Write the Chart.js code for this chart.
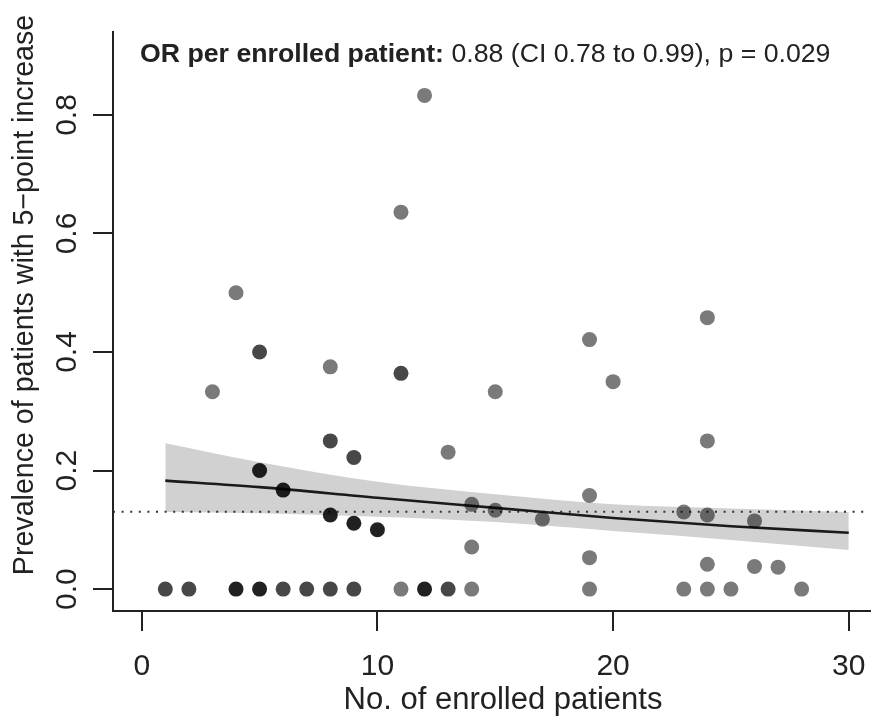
<!DOCTYPE html>
<html>
<head>
<meta charset="utf-8">
<script src="https://cdn.jsdelivr.net/npm/chart.js@4.4.1/dist/chart.umd.min.js"></script>
<style>
  body { margin: 0; background: #fff; }
  #wrap { width: 877px; height: 722px; }
</style>
</head>
<body>
<div id="wrap"><canvas id="chart" width="877" height="722"></canvas></div>
<script>
// sites: enrolled patients vs share with a 5-point increase
const enrolled = [1, 2, 4, 5, 6, 7, 8, 9, 11, 12, 13, 14, 19, 23, 24, 25, 28,
  3, 4, 5, 5, 6, 8, 8, 8, 9, 9, 10, 11, 11, 12, 13, 14, 14, 15, 15, 17,
  19, 19, 19, 20, 23, 24, 24, 24, 24, 26, 26, 27];
const prevalence = [0, 0, 0, 0, 0, 0, 0, 0, 0, 0, 0, 0, 0, 0, 0, 0, 0,
  0.333, 0.5, 0.4, 0.2, 0.167, 0.375, 0.25, 0.125, 0.222, 0.111, 0.1, 0.636, 0.364, 0.833, 0.231, 0.143, 0.071, 0.333, 0.133, 0.118,
  0.421, 0.158, 0.053, 0.35, 0.13, 0.458, 0.25, 0.125, 0.042, 0.115, 0.038, 0.037];
// k = darkest, d = dark grey, m = mid grey
const shade = ['d', 'd', 'k', 'k', 'd', 'd', 'd', 'd', 'm', 'k', 'd', 'm', 'm', 'm', 'm', 'm', 'm',
  'm', 'm', 'd', 'k', 'k', 'm', 'd', 'k', 'd', 'k', 'k', 'm', 'd', 'm', 'm', 'm', 'm', 'm', 'm', 'm',
  'm', 'm', 'm', 'm', 'm', 'm', 'm', 'm', 'm', 'm', 'm', 'm'];

// fitted logistic curve and its confidence band
const fitX = [1, 5, 10, 15, 20, 25, 30];
const fitY = [0.183, 0.172, 0.154, 0.137, 0.120, 0.106, 0.095];
const bandUpper = [0.246, 0.214, 0.181, 0.160, 0.143, 0.136, 0.130];
const bandLower = [0.130, 0.128, 0.122, 0.113, 0.098, 0.083, 0.066];
const overallPrev = 0.1305;

const xTicks = [0, 10, 20, 30];
const yTicks = [0, 0.2, 0.4, 0.6, 0.8];
const xMin = -1.22, xMax = 30.88;
const yMin = -0.037, yMax = 0.94;

const shadeColor = { k: 'rgba(0,0,0,0.87)', d: 'rgba(0,0,0,0.72)', m: 'rgba(0,0,0,0.52)' };
const ink = '#222';
const font = '"Liberation Sans", Arial, sans-serif';

const points = enrolled.map((x, i) => ({ x: x, y: prevalence[i] }));
const toXY = (ys) => fitX.map((x, i) => ({ x: x, y: ys[i] }));

const textPlugin = {
  id: 'texts',
  afterDraw(chart) {
    const { ctx } = chart;
    const x = chart.scales.x, y = chart.scales.y;
    ctx.save();
    ctx.fillStyle = ink;

    // x tick labels + title
    ctx.font = '30px ' + font;
    ctx.textAlign = 'center';
    ctx.textBaseline = 'middle';
    xTicks.forEach(v => ctx.fillText(String(v), x.getPixelForValue(v), 667));
    ctx.font = '31px ' + font;
    ctx.fillText('No. of enrolled patients', 503, 700);

    // y tick labels (rotated like base R)
    ctx.font = '30px ' + font;
    yTicks.forEach(v => {
      ctx.save();
      ctx.translate(68, y.getPixelForValue(v));
      ctx.rotate(-Math.PI / 2);
      ctx.fillText(v.toFixed(1), 0, 0);
      ctx.restore();
    });
    ctx.font = '28.6px ' + font;
    ctx.save();
    ctx.translate(25, 295);
    ctx.rotate(-Math.PI / 2);
    ctx.fillText('Prevalence of patients with 5\u2212point increase', 0, 0);
    ctx.restore();

    // annotation at top
    ctx.textAlign = 'left';
    ctx.textBaseline = 'alphabetic';
    const bold = 'OR per enrolled patient:';
    ctx.font = 'bold 26.7px ' + font;
    ctx.fillText(bold, 140, 62);
    const w = ctx.measureText(bold).width;
    ctx.font = '26.7px ' + font;
    ctx.fillText(' 0.88 (CI 0.78 to 0.99), p = 0.029', 140 + w, 62);
    ctx.restore();
  }
};

new Chart(document.getElementById('chart'), {
  type: 'scatter',
  data: {
    datasets: [
      {
        label: 'sites',
        data: points,
        backgroundColor: shade.map(s => shadeColor[s]),
        borderWidth: 0,
        pointRadius: 7.5,
        order: 0
      },
      {
        type: 'line',
        label: 'fit',
        data: toXY(fitY),
        borderColor: '#1a1a1a',
        borderWidth: 2.6,
        pointRadius: 0,
        cubicInterpolationMode: 'monotone',
        fill: false,
        order: 1
      },
      {
        type: 'line',
        label: 'overall',
        data: [{ x: xMin, y: overallPrev }, { x: xMax, y: overallPrev }],
        borderColor: '#333',
        borderWidth: 2.2,
        borderDash: [2, 6.6],
        pointRadius: 0,
        fill: false,
        order: 2
      },
      {
        type: 'line',
        label: 'upper',
        data: toXY(bandUpper),
        borderWidth: 0,
        borderColor: 'rgba(0,0,0,0)',
        backgroundColor: '#d1d1d1',
        pointRadius: 0,
        cubicInterpolationMode: 'monotone',
        fill: '+1',
        order: 3
      },
      {
        type: 'line',
        label: 'lower',
        data: toXY(bandLower),
        borderWidth: 0,
        borderColor: 'rgba(0,0,0,0)',
        pointRadius: 0,
        cubicInterpolationMode: 'monotone',
        fill: false,
        order: 4
      }
    ]
  },
  options: {
    responsive: false,
    animation: false,
    layout: { padding: { top: 32, right: 0, left: 0, bottom: 0 } },
    plugins: { legend: { display: false }, tooltip: { enabled: false } },
    scales: {
      x: {
        type: 'linear',
        min: xMin,
        max: xMax,
        afterBuildTicks: (s) => { s.ticks = xTicks.map(v => ({ value: v })); },
        afterFit: (s) => { s.height = 111; },
        ticks: { display: false },
        grid: { drawOnChartArea: false, drawTicks: true, tickLength: 20, color: ink, lineWidth: 2 },
        border: { display: true, color: ink, width: 2 }
      },
      y: {
        type: 'linear',
        min: yMin,
        max: yMax,
        afterBuildTicks: (s) => { s.ticks = yTicks.map(v => ({ value: v })); },
        afterFit: (s) => { s.width = 113; },
        ticks: { display: false },
        grid: { drawOnChartArea: false, drawTicks: true, tickLength: 20, color: ink, lineWidth: 2 },
        border: { display: true, color: ink, width: 2 }
      }
    }
  },
  plugins: [textPlugin]
});
</script>
</body>
</html>
